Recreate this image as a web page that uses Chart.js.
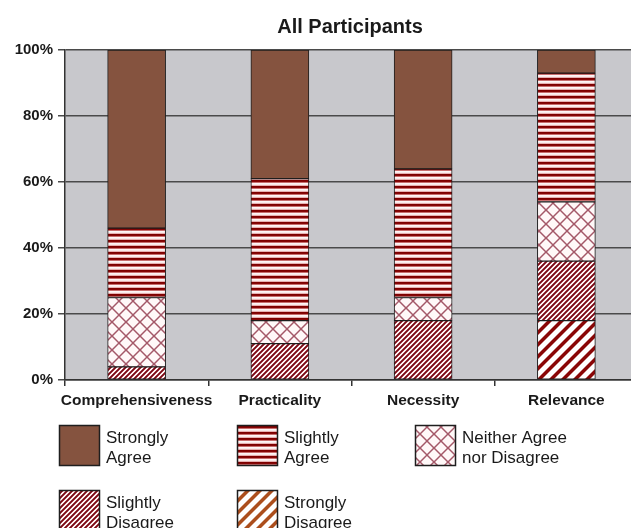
<!DOCTYPE html>
<html>
<head>
<meta charset="utf-8">
<script src="https://cdn.jsdelivr.net/npm/chart.js@4"></script>
<style>
html,body{margin:0;padding:0;background:#fff;overflow:hidden;}
#wrap{width:640px;height:540px;}
</style>
</head>
<body>
<div id="wrap"><canvas id="c" width="640" height="540"></canvas></div>
<script>
const titleText = 'All Participants';
const categories = ['Comprehensiveness', 'Practicality', 'Necessity', 'Relevance'];
const stronglyDisagree = [0, 0, 0, 18];
const slightlyDisagree = [4, 11, 18, 18];
const neitherAgree = [21, 7, 7, 18];
const slightlyAgree = [21, 43, 39, 39];
const stronglyAgree = [54, 39, 36, 7];
const yTicks = [0, 20, 40, 60, 80, 100];
const legendNames = ['Strongly\nAgree', 'Slightly\nAgree', 'Neither Agree\nnor Disagree', 'Slightly\nDisagree', 'Strongly\nDisagree'];

const FONT = '"Liberation Sans", Arial, Helvetica, sans-serif';
const ctx0 = document.getElementById('c').getContext('2d');

function pixTile(w, h, fn) {
  const t = document.createElement('canvas');
  t.width = w; t.height = h;
  const g = t.getContext('2d');
  const img = g.createImageData(w, h);
  for (let y = 0; y < h; y++) for (let x = 0; x < w; x++) {
    const c = fn(x, y);
    const i = (y * w + x) * 4;
    img.data[i] = c[0]; img.data[i + 1] = c[1]; img.data[i + 2] = c[2]; img.data[i + 3] = 255;
  }
  g.putImageData(img, 0, 0);
  return ctx0.createPattern(t, 'repeat');
}
function mix(a, b, t) { return [0, 1, 2].map(i => Math.round(a[i] + (b[i] - a[i]) * t)); }
function hStripes() {
  const rows = [[126, 0, 0], [134, 6, 6], [200, 110, 110], [255, 246, 246], [251, 234, 234], [230, 176, 176]];
  return pixTile(4, rows.length, (x, y) => rows[y]);
}
function crossHatch() {
  const t = document.createElement('canvas');
  t.width = 14; t.height = 14;
  const g = t.getContext('2d');
  g.fillStyle = '#fff8f8'; g.fillRect(0, 0, 14, 14);
  g.strokeStyle = '#a45868'; g.lineWidth = 1.5;
  for (let k = -1; k <= 1; k++) {
    g.beginPath(); g.moveTo(k * 14, 0); g.lineTo(k * 14 + 14, 14); g.stroke();
    g.beginPath(); g.moveTo(k * 14, 14); g.lineTo(k * 14 + 14, 0); g.stroke();
  }
  return ctx0.createPattern(t, 'repeat');
}
function diagStripes(p, core, soft, dark, light) {
  return pixTile(p, p, (x, y) => {
    const s = (x + y) % p;
    const c = (p - 1) / 2;
    let d = Math.abs(s - c); d = Math.min(d, p - d);
    let a = 1 - (d - core / 2) / soft;
    a = Math.max(0, Math.min(1, a));
    return mix(light, dark, a);
  });
}

const fills = {
  sa: '#85533f',
  sla: hStripes(),
  n: crossHatch(),
  sld: diagStripes(5, 1.6, 1.0, [125, 8, 20], [255, 244, 244]),
  sd: diagStripes(12, 3.2, 1.8, [138, 6, 6], [255, 255, 255]),
  sdLegend: diagStripes(12, 3.2, 1.8, [172, 78, 28], [255, 255, 255])
};

const datasets = [
  { label: legendNames[4], data: stronglyDisagree, backgroundColor: fills.sd, legendFill: fills.sdLegend },
  { label: legendNames[3], data: slightlyDisagree, backgroundColor: fills.sld },
  { label: legendNames[2], data: neitherAgree, backgroundColor: fills.n },
  { label: legendNames[1], data: slightlyAgree, backgroundColor: fills.sla },
  { label: legendNames[0], data: stronglyAgree, backgroundColor: fills.sa }
].map(d => Object.assign(d, { borderColor: '#1e1e1e', borderWidth: 1, borderSkipped: false, barThickness: 58 }));

const bgPlugin = {
  id: 'plotBg',
  beforeDraw(chart) {
    const { ctx, chartArea: a } = chart;
    ctx.save();
    ctx.fillStyle = '#c8c8cc';
    ctx.fillRect(a.left, a.top, a.right - a.left, a.bottom - a.top);
    ctx.restore();
  }
};

const titleLegendPlugin = {
  id: 'titleLegend',
  afterDraw(chart) {
    const { ctx } = chart;
    ctx.save();
    ctx.fillStyle = '#1a1a1a';
    ctx.font = 'bold 20px ' + FONT;
    ctx.textAlign = 'center';
    ctx.textBaseline = 'alphabetic';
    ctx.fillText(titleText, 350, 33);

    const cols = [59, 237, 415];
    const rows = [425, 490];
    const ds = chart.data.datasets.slice().reverse();
    ds.forEach((d, i) => {
      const x = cols[i % 3], y = rows[Math.floor(i / 3)];
      ctx.fillStyle = d.legendFill || d.backgroundColor;
      ctx.fillRect(x, y, 41, 41);
      ctx.strokeStyle = '#1e1e1e'; ctx.lineWidth = 1.5;
      ctx.strokeRect(x + 0.5, y + 0.5, 40, 40);
      ctx.fillStyle = '#1a1a1a';
      ctx.font = '17px ' + FONT;
      ctx.textAlign = 'left';
      d.label.split('\n').forEach((line, j) => {
        ctx.fillText(line, x + 47, y + 18 + j * 19.5);
      });
    });
    ctx.restore();
  }
};

new Chart(document.getElementById('c'), {
  type: 'bar',
  data: { labels: categories, datasets },
  plugins: [bgPlugin, titleLegendPlugin],
  options: {
    responsive: false,
    animation: false,
    layout: { padding: { top: 50, right: 2, left: 0, bottom: 0 } },
    plugins: { legend: { display: false }, title: { display: false }, tooltip: { enabled: false } },
    scales: {
      x: {
        stacked: true,
        afterFit(s) { s.height = 160; },
        grid: { drawOnChartArea: false, drawTicks: true, tickLength: 6, color: '#333', lineWidth: 1.5, offset: true },
        border: { display: true, color: '#333', width: 1.5 },
        ticks: { color: '#1a1a1a', font: { family: FONT, size: 15.5, weight: 'bold' }, padding: 5, maxRotation: 0, autoSkip: false }
      },
      y: {
        stacked: true,
        min: 0, max: 100,
        afterFit(s) { s.width = 65; },
        afterBuildTicks(s) { s.ticks = yTicks.map(v => ({ value: v })); },
        grid: { color: '#4a4a4a', lineWidth: 1.5, tickLength: 7 },
        border: { display: true, color: '#333', width: 1.5 },
        ticks: { color: '#1a1a1a', font: { family: FONT, size: 15, weight: 'bold' }, padding: 5, callback: v => v + '%' }
      }
    }
  }
});
</script>
</body>
</html>
